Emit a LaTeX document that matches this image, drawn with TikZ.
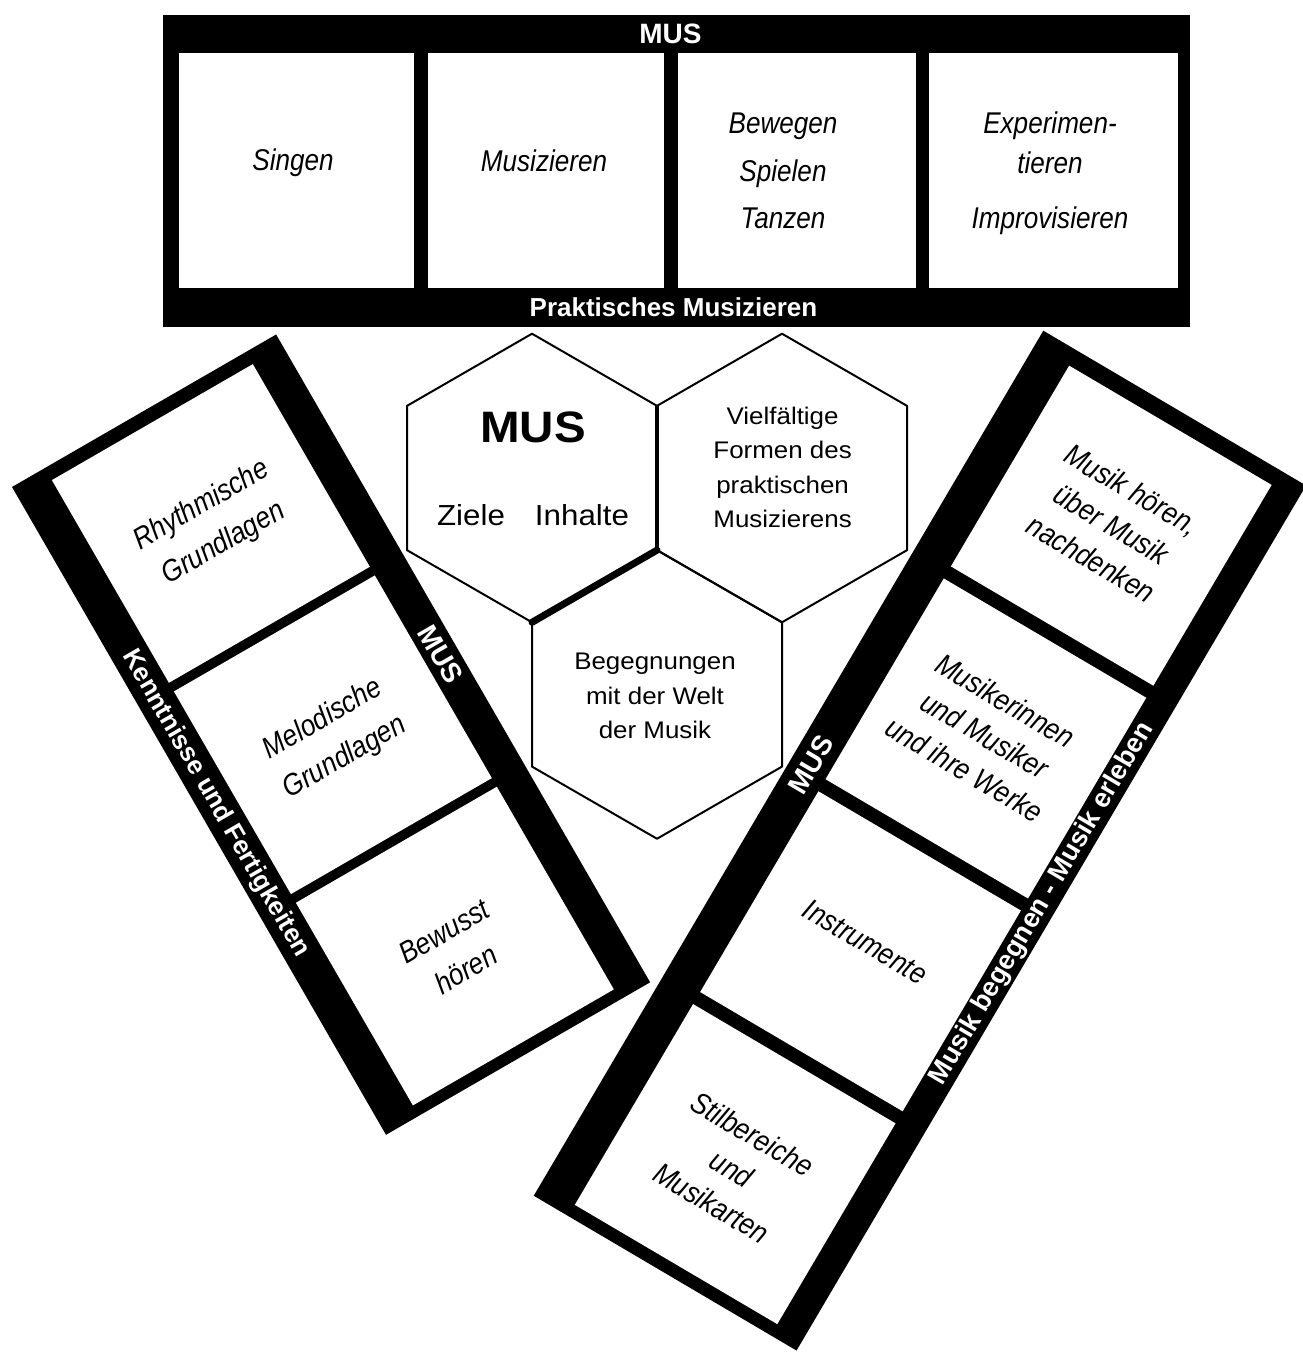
\documentclass[tikz,border=0pt]{standalone}
\usepackage{fontspec}
\setmainfont{Liberation Sans}
\newfontfamily\cellfont[FakeStretch=0.87]{Liberation Sans}
\newfontfamily\hexfont[FakeStretch=1.08]{Liberation Sans}
\begin{document}
\begin{tikzpicture}[x=1pt,y=-1pt,
  blackbox/.style={fill=black, draw=none, inner sep=0pt, outer sep=0pt},
  whitebox/.style={fill=white, draw=none, inner sep=0pt, outer sep=0pt},
  ctext/.style={font=\cellfont\itshape\fontsize{30}{#1}\selectfont, align=center, inner sep=0pt},
  ctext/.default=44,
  bandtext/.style={font=\bfseries\fontsize{26}{30}\selectfont, text=white, inner sep=0pt},
  mustext/.style={font=\bfseries\fontsize{28}{30}\selectfont, text=white, inner sep=0pt},
  hextext/.style={font=\hexfont\fontsize{24}{34.5}\selectfont, align=center, inner sep=0pt},
  hexline/.style={draw=black, line width=2pt, line join=round},
]
\useasboundingbox (0,0) rectangle (1303,1352);
\clip (0,0) rectangle (1303,1352);
\fill[white] (0,0) rectangle (1303,1352);

% ---------- top banner ----------
\node[blackbox, minimum width=1027pt, minimum height=312pt] (banner) at (676.5,171) {};
\node[whitebox, minimum width=235pt, minimum height=235.6pt] (box1) at (296.1,170.5) {};
\node[whitebox, minimum width=236.4pt, minimum height=235.6pt] (box2) at (546.1,170.5) {};
\node[whitebox, minimum width=238.5pt, minimum height=235.6pt] (box3) at (797.2,170.5) {};
\node[whitebox, minimum width=249.3pt, minimum height=235.6pt] (box4) at (1053.3,170.5) {};
\node[mustext] (topmus) at (670.5,34) {MUS};
\node[bandtext] (praktisch) at (673.5,307.5) {Praktisches Musizieren};
\node[ctext] (singen) at (293,163) {Singen};
\node[ctext] (musiz) at (544,161) {Musizieren};
\node[ctext=47.5] (bewegen) at (783,171) {Bewegen\\Spielen\\Tanzen};
\node[ctext=40] (experi) at (1050,173.5) {Experimen-\\tieren\\[15pt]Improvisieren};

% ---------- left strip ----------
\begin{scope}[shift={(12,487)}, rotate=30, transform shape]
  \node[blackbox, minimum width=305pt, minimum height=748pt] (lstrip) at (152.5,374) {};
  \node[whitebox, minimum width=232pt, minimum height=234pt] (lc1) at (154,131) {};
  \node[whitebox, minimum width=232pt, minimum height=234pt] (lc2) at (154,375) {};
  \node[whitebox, minimum width=232pt, minimum height=234pt] (lc3) at (154,619) {};
  \node[ctext] (lt1) at (155,133) {Rhythmische\\Grundlagen};
  \node[ctext] (lt2) at (153,379) {Melodische\\Grundlagen};
  \node[ctext] (lt3) at (152,623) {Bewusst\\hören};
  \node[bandtext, rotate=-90] (lkennt) at (18,376) {Kenntnisse und Fertigkeiten};
  \node[mustext, rotate=-90] (lmus) at (287.5,359) {MUS};
\end{scope}

% ---------- right strip ----------
\begin{scope}[shift={(1043.3,330.7)}, rotate=-30.5, transform shape]
  \node[blackbox, minimum width=305pt, minimum height=1004pt] (rstrip) at (152.5,502) {};
  \node[whitebox, minimum width=235pt, minimum height=233pt] (rc1) at (157.5,133.5) {};
  \node[whitebox, minimum width=235pt, minimum height=233pt] (rc2) at (157.5,380.5) {};
  \node[whitebox, minimum width=235pt, minimum height=233pt] (rc3) at (157.5,627.5) {};
  \node[whitebox, minimum width=235pt, minimum height=233pt] (rc4) at (157.5,874.5) {};
  \node[ctext=40] (rt1) at (157,132) {Musik hören,\\über Musik\\nachdenken};
  \node[ctext=40] (rt2) at (155,378) {Musikerinnen\\und Musiker\\und ihre Werke};
  \node[ctext=40] (rt3) at (157,617) {Instrumente};
  \node[ctext=40] (rt4) at (157,880) {Stilbereiche\\und\\Musikarten};
  \node[mustext, rotate=90] (rmus) at (20,492) {MUS};
  \node[bandtext, font=\bfseries\fontsize{27}{30}\selectfont, rotate=90] (rbeg) at (290,494) {Musik begegnen - Musik erleben};
\end{scope}

% ---------- hexagons ----------
\coordinate (hc1) at (532,478);
\coordinate (hc2) at (782,478);
\coordinate (hc3) at (657,694.45);
\draw[hexline] (532,333.7) -- (657,405.85) -- (657,550.15) -- (532,622.3) -- (407,550.15) -- (407,405.85) -- cycle;
\draw[hexline] (782,333.7) -- (907,405.85) -- (907,550.15) -- (782,622.3) -- (657,550.15) -- (657,405.85) -- cycle;
\draw[hexline] (657,550.15) -- (782,622.3) -- (782,766.6) -- (657,838.75) -- (532,766.6) -- (532,622.3) -- cycle;
\draw[line width=4pt] (657,405.85) -- (657,550.15);
\draw[line width=7pt, line cap=round] (657,550.15) -- (532,622.3);

\node[font=\hexfont\bfseries\fontsize{44}{48}\selectfont, inner sep=0pt] (hmus) at (533,427.5) {MUS};
\node[font=\hexfont\fontsize{29}{32}\selectfont, inner sep=0pt] (ziele) at (471,515) {Ziele};
\node[font=\hexfont\fontsize{29}{32}\selectfont, inner sep=0pt] (inhalte) at (582,515) {Inhalte};
\node[hextext] (vielf) at (782.6,467.5) {Vielfältige\\Formen des\\praktischen\\Musizierens};
\node[hextext] (begeg) at (655,696) {Begegnungen\\mit der Welt\\der Musik};
\end{tikzpicture}
\end{document}
